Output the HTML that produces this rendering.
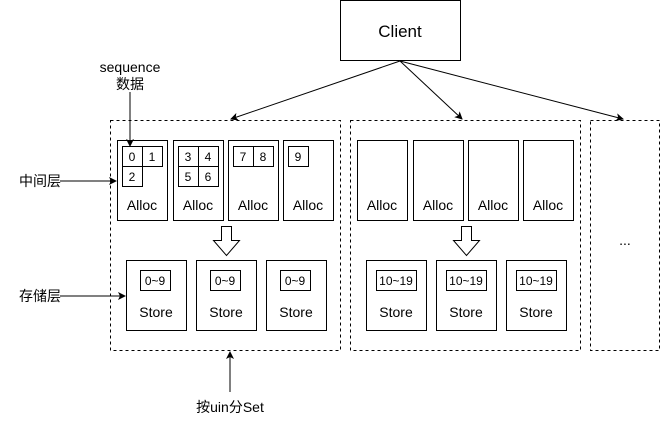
<!DOCTYPE html>
<html><head><meta charset="utf-8"><style>
body{margin:0;background:#fff}
text{font-family:"Liberation Sans","Noto Sans CJK SC",sans-serif;fill:#000}
</style></head><body>
<svg width="661" height="421" viewBox="0 0 661 421" xmlns="http://www.w3.org/2000/svg">
<defs><marker id="a" markerWidth="8" markerHeight="8" refX="7" refY="4" orient="auto" markerUnits="userSpaceOnUse"><path d="M0,0 L8,4 L0,8 L2,4 Z" fill="#000"/></marker></defs>
<g fill="none" stroke="#000" stroke-width="1">
<rect x="340.5" y="0.5" width="120" height="60"/>
<g stroke-dasharray="3,3">
<rect x="110.5" y="120.5" width="230" height="230"/>
<rect x="350.5" y="120.5" width="230" height="230"/>
<rect x="590.5" y="120.5" width="69" height="230"/>
</g>
<line x1="400" y1="61" x2="231" y2="119" marker-end="url(#a)"/>
<line x1="400" y1="61" x2="462" y2="119" marker-end="url(#a)"/>
<line x1="400" y1="61" x2="623" y2="119" marker-end="url(#a)"/>
<line x1="130" y1="92" x2="130" y2="146" marker-end="url(#a)"/>
<line x1="60" y1="181" x2="116" y2="181" marker-end="url(#a)"/>
<line x1="60" y1="296" x2="125" y2="296" marker-end="url(#a)"/>
<line x1="230" y1="392" x2="230" y2="352" marker-end="url(#a)"/>
<rect x="117.5" y="140.5" width="50" height="80"/>
<rect x="173.5" y="140.5" width="50" height="80"/>
<rect x="228.5" y="140.5" width="50" height="80"/>
<rect x="283.5" y="140.5" width="50" height="80"/>
<rect x="357.5" y="140.5" width="50" height="80"/>
<rect x="413.5" y="140.5" width="50" height="80"/>
<rect x="468.5" y="140.5" width="50" height="80"/>
<rect x="523.5" y="140.5" width="50" height="80"/>
<rect x="122.5" y="146.5" width="20" height="20"/><rect x="142.5" y="146.5" width="20" height="20"/><rect x="122.5" y="166.5" width="20" height="20"/>
<rect x="178.5" y="146.5" width="20" height="20"/><rect x="198.5" y="146.5" width="20" height="20"/><rect x="178.5" y="166.5" width="20" height="20"/><rect x="198.5" y="166.5" width="20" height="20"/>
<rect x="233.5" y="146.5" width="20" height="20"/><rect x="253.5" y="146.5" width="20" height="20"/>
<rect x="288.5" y="146.5" width="20" height="20"/>
<path d="M221.5,226.5 h10 v14 h8 l-13,15 l-13,-15 h8 z"/>
<path d="M461.5,226.5 h10 v14 h8 l-13,15 l-13,-15 h8 z"/>
<rect x="126.5" y="260.5" width="60" height="70"/><rect x="196.5" y="260.5" width="60" height="70"/><rect x="266.5" y="260.5" width="60" height="70"/>
<rect x="366.5" y="260.5" width="60" height="70"/><rect x="436.5" y="260.5" width="60" height="70"/><rect x="506.5" y="260.5" width="60" height="70"/>
<rect x="140.5" y="270.5" width="30" height="20"/><rect x="210.5" y="270.5" width="30" height="20"/><rect x="280.5" y="270.5" width="30" height="20"/>
<rect x="376.5" y="270.5" width="40" height="20"/><rect x="446.5" y="270.5" width="40" height="20"/><rect x="516.5" y="270.5" width="40" height="20"/>
</g>
<g font-size="17" text-anchor="middle"><text x="400" y="37">Client</text></g>
<g font-size="14" text-anchor="middle">
<text x="130" y="72">sequence</text><text x="130" y="89">数据</text>
<text x="40" y="186">中间层</text><text x="40" y="301">存储层</text>
<text x="230" y="412">按uin分Set</text>
<text x="142" y="210">Alloc</text><text x="198" y="210">Alloc</text><text x="253" y="210">Alloc</text><text x="308" y="210">Alloc</text>
<text x="382" y="210">Alloc</text><text x="438" y="210">Alloc</text><text x="493" y="210">Alloc</text><text x="548" y="210">Alloc</text>
<text x="156" y="317">Store</text><text x="226" y="317">Store</text><text x="296" y="317">Store</text>
<text x="396" y="317">Store</text><text x="466" y="317">Store</text><text x="536" y="317">Store</text>
<text x="625" y="245">...</text>
</g>
<g font-size="12" text-anchor="middle">
<text x="132" y="161">0</text><text x="152" y="161">1</text><text x="132" y="181">2</text>
<text x="188" y="161">3</text><text x="208" y="161">4</text><text x="188" y="181">5</text><text x="208" y="181">6</text>
<text x="243" y="161">7</text><text x="263" y="161">8</text><text x="298" y="161">9</text>
<text x="155" y="285">0~9</text><text x="225" y="285">0~9</text><text x="295" y="285">0~9</text>
<text x="396" y="285">10~19</text><text x="466" y="285">10~19</text><text x="536" y="285">10~19</text>
</g>
</svg>
</body></html>
